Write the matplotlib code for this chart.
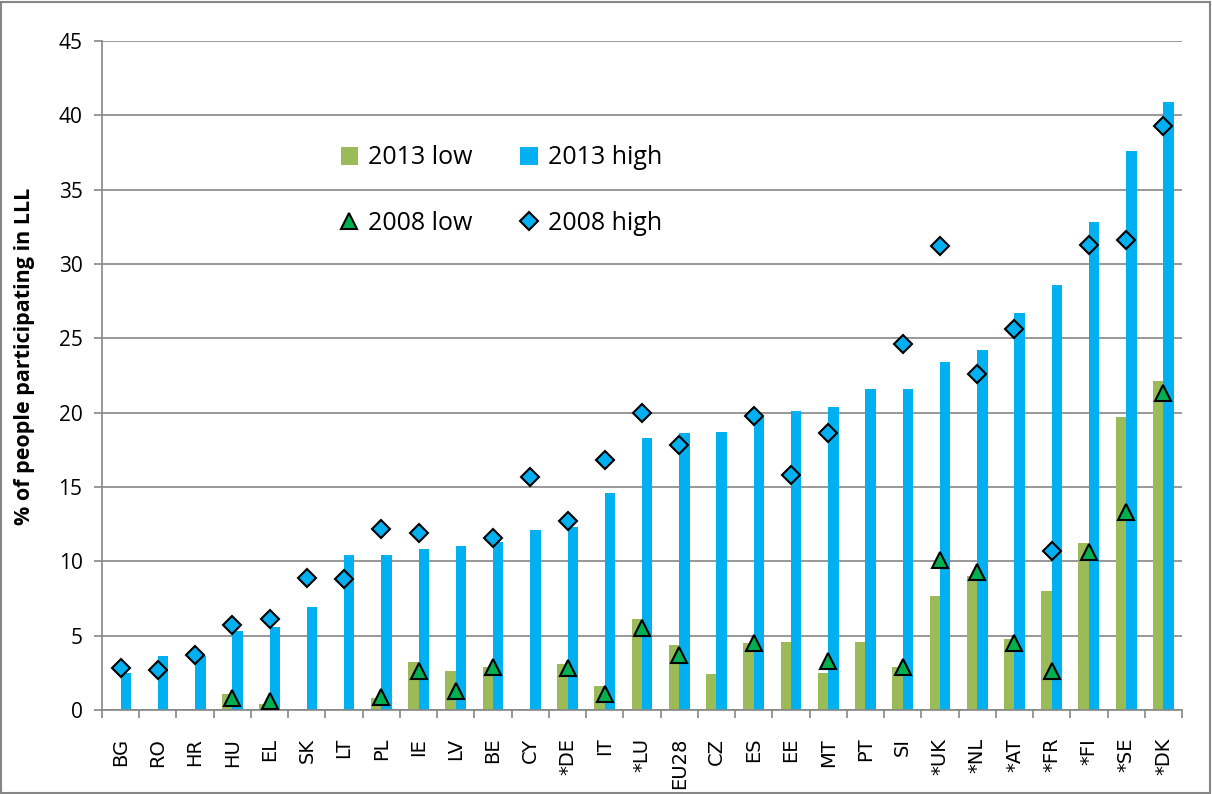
import matplotlib.pyplot as plt
import matplotlib.patches as patches
import numpy as np

countries = ['BG', 'RO', 'HR', 'HU', 'EL', 'SK', 'LT', 'PL', 'IE', 'LV', 'BE', 'CY',
             '*DE', 'IT', '*LU', 'EU28', 'CZ', 'ES', 'EE', 'MT', 'PT', 'SI', '*UK',
             '*NL', '*AT', '*FR', '*FI', '*SE', '*DK']

low_2013 = [0, 0, 0, 1.1, 0.4, 0, 0, 0.8, 3.2, 2.6, 2.9, 0,
            3.1, 1.6, 6.1, 4.4, 2.4, 4.5, 4.6, 2.5, 4.6, 2.9, 7.7,
            9.0, 4.8, 8.0, 11.2, 19.7, 22.1]
high_2013 = [2.5, 3.6, 3.6, 5.3, 5.6, 6.9, 10.4, 10.4, 10.8, 11.0, 11.3, 12.1,
             12.3, 14.6, 18.3, 18.6, 18.7, 19.7, 20.1, 20.4, 21.6, 21.6, 23.4,
             24.2, 26.7, 28.6, 32.8, 37.6, 40.9]
# 2008 values (None = no data point)
low_2008 = [None, None, None, 0.8, 0.6, None, None, 0.9, 2.6, 1.3, 2.9, None,
            2.8, 1.1, 5.5, 3.7, None, 4.5, None, 3.3, None, 2.9, 10.1,
            9.3, 4.5, 2.6, 10.6, 13.3, 21.3]
high_2008 = [2.8, 2.7, 3.7, 5.7, 6.1, 8.9, 8.8, 12.2, 11.9, None, 11.6, 15.7,
             12.7, 16.8, 20.0, 17.8, None, 19.8, 15.8, 18.6, None, 24.6, 31.2,
             22.6, 25.6, 10.7, 31.3, 31.6, 39.3]

green = '#9BBB59'
blue = '#00B0F0'
tri_green = '#00B050'
grid_gray = '#868686'

fig = plt.figure(figsize=(12.12, 7.94), dpi=100)
ax = fig.add_axes([102 / 1212, 84 / 794, 1080 / 1212, 669 / 794])

x = np.arange(len(countries))
w = 0.28
b_low = ax.bar(x - w / 2, low_2013, width=w, color=green, label='2013 low', zorder=2)
b_high = ax.bar(x + w / 2, high_2013, width=w, color=blue, label='2013 high', zorder=2)

lx = [i for i, v in enumerate(low_2008) if v is not None]
ly = [v for v in low_2008 if v is not None]
hx = [i for i, v in enumerate(high_2008) if v is not None]
hy = [v for v in high_2008 if v is not None]
m_low, = ax.plot(lx, ly, linestyle='none', marker='^', markersize=12, markerfacecolor=tri_green,
                 markeredgecolor='black', markeredgewidth=1.5, label='2008 low', zorder=3)
m_high, = ax.plot(hx, hy, linestyle='none', marker='D', markersize=9.5, markerfacecolor=blue,
                  markeredgecolor='black', markeredgewidth=1.5, label='2008 high', zorder=3)

ax.set_xlim(-0.5, len(countries) - 0.5)
ax.set_ylim(0, 45)
ax.set_yticks(range(0, 50, 5))
ax.yaxis.grid(True, color=grid_gray, linewidth=1.2, zorder=0)
ax.set_axisbelow(True)

ax.set_xticks(x)
ax.set_xticklabels(countries, rotation=90, fontsize=14, family='DejaVu Sans')
ax.set_xticks(np.arange(-0.5, len(countries), 1), minor=True)
ax.tick_params(axis='x', which='major', length=0, pad=20)
ax.tick_params(axis='x', which='minor', length=6, width=1.2, color=grid_gray)
ax.tick_params(axis='y', length=6, width=1.2, color=grid_gray, pad=8)
for lab in ax.get_yticklabels():
    lab.set_fontsize(15)
    lab.set_family('Open Sans')

for side in ['top', 'right']:
    ax.spines[side].set_visible(False)
for side in ['left', 'bottom']:
    ax.spines[side].set_color(grid_gray)
    ax.spines[side].set_linewidth(1.2)

fig.text(25 / 1212, 1 - 356 / 794, '% of people participating in LLL', rotation=90,
         ha='center', va='center', fontsize=15.5, fontweight='bold', family='Open Sans')

ax.legend([b_low, m_low, b_high, m_high], ['2013 low', '2008 low', '2013 high', '2008 high'],
          ncol=2, frameon=False, prop={'family': 'Open Sans', 'size': 18},
          loc='upper left', bbox_to_anchor=(318 / 1212, 1 - 123 / 794),
          bbox_transform=fig.transFigure, labelspacing=1.6, columnspacing=1.9,
          handlelength=0.7, handleheight=0.7, handletextpad=0.4)

fig.patches.append(patches.Rectangle((0.001, 0.001), 0.997, 0.997, transform=fig.transFigure,
                                     fill=False, edgecolor=grid_gray, linewidth=1.5))

fig.savefig('out.png', dpi=100)
